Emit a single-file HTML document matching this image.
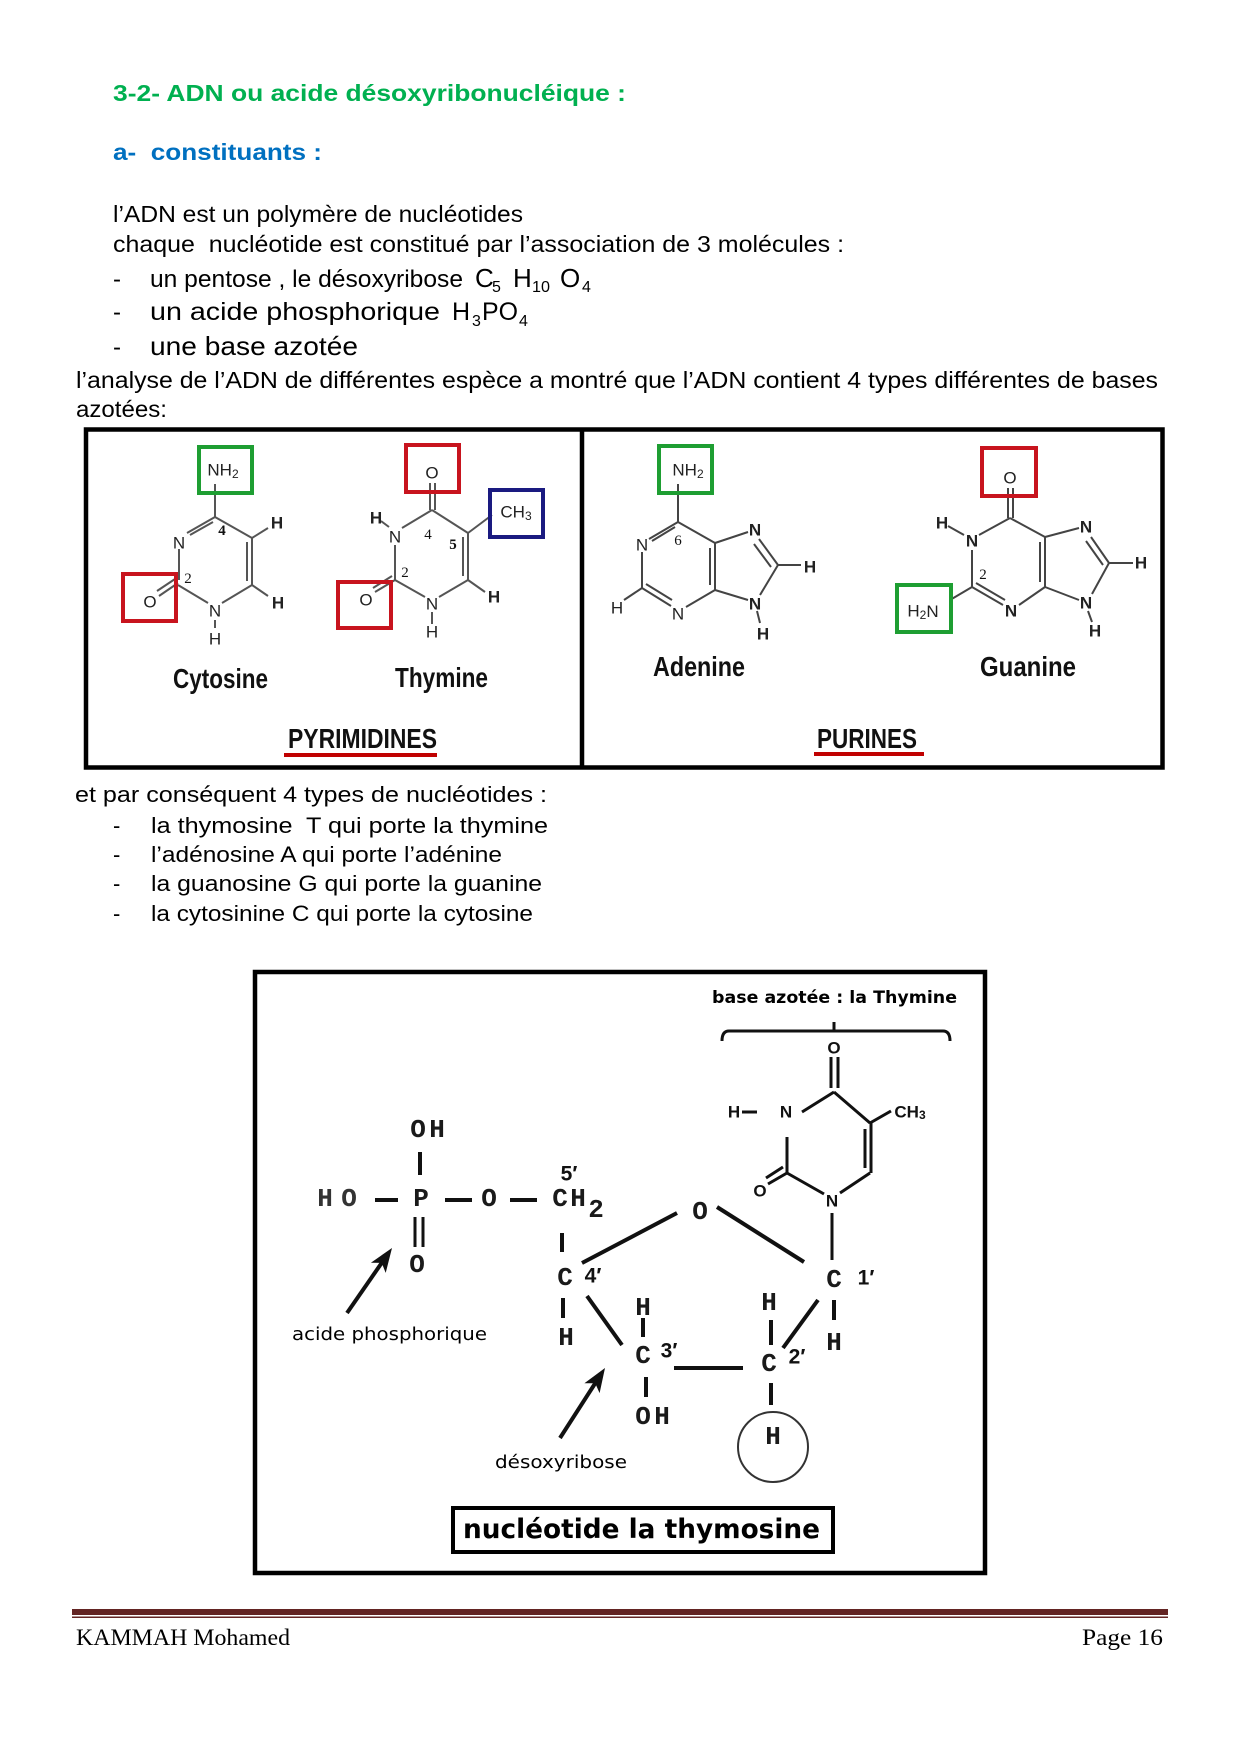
<!DOCTYPE html>
<html><head><meta charset="utf-8"><style>
html,body{margin:0;padding:0;background:#fff}
svg{display:block}
text{white-space:pre}
.p{font-family:"Liberation Sans",Arial,sans-serif;fill:#000}
.a{font-family:"Liberation Sans",Arial,sans-serif;font-size:17px;fill:#222;text-anchor:middle;dominant-baseline:central}
.n{font-family:"Liberation Serif",serif;font-size:15px;fill:#111;text-anchor:middle;dominant-baseline:central}
.m{font-family:"Liberation Mono",monospace;font-weight:bold;font-size:26px;fill:#1a1a1a;text-anchor:middle;dominant-baseline:central}
.pr{font-family:"Liberation Sans",sans-serif;font-weight:bold;font-size:21px;fill:#111;text-anchor:middle;dominant-baseline:central}
.b{font-family:"Liberation Sans",sans-serif;font-weight:bold;font-size:17px;fill:#111;text-anchor:middle;dominant-baseline:central}
.lab{font-family:"Liberation Sans",sans-serif;font-weight:bold;font-size:28px;fill:#111}
.dv{font-family:"DejaVu Sans",sans-serif;fill:#000}
</style></head><body>
<svg width="1240" height="1754" viewBox="0 0 1240 1754" xmlns="http://www.w3.org/2000/svg">
<rect x="0" y="0" width="1240" height="1754" fill="#fff"/>

<!-- Headings -->
<text class="p" x="113" y="101" font-size="23" font-weight="bold" style="fill:#00b050" textLength="513" lengthAdjust="spacingAndGlyphs">3-2- ADN ou acide désoxyribonucléique :</text>
<text class="p" x="113" y="160" font-size="23" font-weight="bold" style="fill:#0070c0" textLength="209" lengthAdjust="spacingAndGlyphs">a-  constituants :</text>

<text class="p" x="113" y="222" font-size="23" textLength="410" lengthAdjust="spacingAndGlyphs">l’ADN est un polymère de nucléotides</text>
<text class="p" x="113" y="252" font-size="23" textLength="731" lengthAdjust="spacingAndGlyphs">chaque  nucléotide est constitué par l’association de 3 molécules :</text>

<text class="p" x="113" y="287" font-size="24">-</text>
<text class="p" x="150" y="287" font-size="24" textLength="313" lengthAdjust="spacingAndGlyphs">un pentose , le désoxyribose</text>
<text class="p" x="475" y="287" font-size="26">C</text>
<text class="p" x="492" y="292" font-size="16">5</text>
<text class="p" x="513" y="287" font-size="26">H</text>
<text class="p" x="532" y="292" font-size="16" textLength="18" lengthAdjust="spacingAndGlyphs">10</text>
<text class="p" x="560" y="287" font-size="26">O</text>
<text class="p" x="582" y="292" font-size="16">4</text>

<text class="p" x="113" y="320" font-size="24">-</text>
<text class="p" x="150" y="320" font-size="25" textLength="290" lengthAdjust="spacingAndGlyphs">un acide phosphorique</text>
<text class="p" x="452" y="320" font-size="25">H</text>
<text class="p" x="472" y="326" font-size="16">3</text>
<text class="p" x="482" y="320" font-size="25" textLength="36" lengthAdjust="spacingAndGlyphs">PO</text>
<text class="p" x="519" y="326" font-size="16">4</text>

<text class="p" x="113" y="355" font-size="24">-</text>
<text class="p" x="150" y="355" font-size="26" textLength="208" lengthAdjust="spacingAndGlyphs">une base azotée</text>

<text class="p" x="76" y="388" font-size="23" textLength="1082" lengthAdjust="spacingAndGlyphs">l’analyse de l’ADN de différentes espèce a montré que l’ADN contient 4 types différentes de bases</text>
<text class="p" x="76" y="417" font-size="23" textLength="91" lengthAdjust="spacingAndGlyphs">azotées:</text>

<!-- Bases box -->
<rect x="86" y="429.5" width="1076.5" height="338" fill="none" stroke="#000" stroke-width="4.5"/>
<line x1="582" y1="429.5" x2="582" y2="767.5" stroke="#000" stroke-width="4.5"/>

<!-- Cytosine -->
<g stroke="#555" stroke-width="2" fill="none">
<line x1="215" y1="484" x2="215" y2="517"/>
<line x1="215" y1="517" x2="187" y2="533"/><line x1="213" y1="522" x2="190" y2="535"/>
<line x1="215" y1="517" x2="252" y2="538"/>
<line x1="252" y1="538" x2="252" y2="585"/><line x1="247" y1="542" x2="247" y2="581"/>
<line x1="252" y1="585" x2="222" y2="603"/>
<line x1="208" y1="603" x2="178" y2="585"/>
<line x1="179" y1="580" x2="179" y2="549"/>
<line x1="178" y1="583" x2="159" y2="596"/><line x1="175" y1="579" x2="157" y2="591"/>
<line x1="252" y1="538" x2="268" y2="528"/>
<line x1="252" y1="585" x2="268" y2="596"/>
<line x1="215" y1="620" x2="215" y2="628"/>
</g>
<rect x="199" y="447" width="53" height="46" fill="none" stroke="#1e9e32" stroke-width="4"/>
<rect x="123" y="574" width="53" height="47" fill="none" stroke="#c8141e" stroke-width="4"/>
<text class="a" x="223" y="470">NH<tspan font-size="12" dy="4">2</tspan></text>
<text class="a" x="179" y="543">N</text>
<text class="a" x="215" y="611">N</text>
<text class="a" x="215" y="639">H</text>
<text class="a" x="150" y="602">O</text>
<text class="a" x="277" y="523" font-weight="bold">H</text>
<text class="a" x="278" y="603" font-weight="bold">H</text>
<text class="n" x="222" y="531" font-weight="bold">4</text>
<text class="n" x="188" y="579">2</text>
<text class="lab" x="173" y="688" textLength="95" lengthAdjust="spacingAndGlyphs">Cytosine</text>

<!-- Thymine -->
<g stroke="#555" stroke-width="2" fill="none">
<line x1="430" y1="483" x2="430" y2="510"/><line x1="435" y1="483" x2="435" y2="510"/>
<line x1="432" y1="510" x2="402" y2="528"/>
<line x1="381" y1="521" x2="389" y2="527"/>
<line x1="432" y1="510" x2="468" y2="533"/>
<line x1="468" y1="533" x2="492" y2="515"/>
<line x1="468" y1="533" x2="468" y2="580"/><line x1="463" y1="537" x2="463" y2="576"/>
<line x1="468" y1="580" x2="485" y2="592"/>
<line x1="468" y1="580" x2="439" y2="597"/>
<line x1="425" y1="597" x2="395" y2="580"/>
<line x1="395" y1="580" x2="395" y2="545"/>
<line x1="395" y1="580" x2="375" y2="592"/><line x1="392" y1="576" x2="373" y2="588"/>
<line x1="432" y1="612" x2="432" y2="624"/>
</g>
<rect x="406" y="445" width="53" height="47" fill="none" stroke="#c8141e" stroke-width="4"/>
<rect x="338" y="582" width="53" height="46" fill="none" stroke="#c8141e" stroke-width="4"/>
<rect x="490" y="490" width="53" height="47" fill="none" stroke="#1a1a80" stroke-width="4"/>
<text class="a" x="432" y="473">O</text>
<text class="a" x="376" y="518" font-weight="bold">H</text>
<text class="a" x="395" y="537">N</text>
<text class="a" x="432" y="604">N</text>
<text class="a" x="432" y="632">H</text>
<text class="a" x="366" y="600">O</text>
<text class="a" x="494" y="597" font-weight="bold">H</text>
<text class="a" x="516" y="512">CH<tspan font-size="12" dy="4">3</tspan></text>
<text class="n" x="428" y="535">4</text>
<text class="n" x="453" y="545" font-weight="bold">5</text>
<text class="n" x="405" y="573">2</text>
<text class="lab" x="395" y="687" textLength="93" lengthAdjust="spacingAndGlyphs">Thymine</text>

<text class="lab" x="288" y="748" textLength="149" lengthAdjust="spacingAndGlyphs">PYRIMIDINES</text>
<line x1="284" y1="755" x2="437" y2="755" stroke="#c00000" stroke-width="4"/>

<!-- Adenine -->
<g stroke="#444" stroke-width="2" fill="none">
<line x1="678" y1="484" x2="678" y2="522"/>
<line x1="678" y1="522" x2="649" y2="539"/><line x1="675" y1="527" x2="652" y2="541"/>
<line x1="642" y1="552" x2="642" y2="588"/>
<line x1="642" y1="588" x2="624" y2="600"/>
<line x1="642" y1="588" x2="671" y2="606"/><line x1="646" y1="584" x2="672" y2="600"/>
<line x1="686" y1="607" x2="715" y2="590"/>
<line x1="715" y1="590" x2="715" y2="543"/><line x1="710" y1="585" x2="710" y2="548"/>
<line x1="715" y1="543" x2="678" y2="522"/>
<line x1="715" y1="543" x2="748" y2="532"/>
<line x1="759" y1="539" x2="778" y2="565"/><line x1="754" y1="544" x2="771" y2="567"/>
<line x1="778" y1="565" x2="801" y2="565"/>
<line x1="778" y1="565" x2="760" y2="595"/>
<line x1="748" y1="600" x2="715" y2="590"/>
<line x1="757" y1="611" x2="760" y2="623"/>
</g>
<rect x="659" y="446" width="53" height="47" fill="none" stroke="#1e9e32" stroke-width="4"/>
<text class="a" x="688" y="470">NH<tspan font-size="12" dy="4">2</tspan></text>
<text class="a" x="642" y="545">N</text>
<text class="a" x="617" y="608">H</text>
<text class="a" x="678" y="614">N</text>
<text class="a" x="755" y="530" font-weight="bold">N</text>
<text class="a" x="810" y="567" font-weight="bold">H</text>
<text class="a" x="755" y="604" font-weight="bold">N</text>
<text class="a" x="763" y="634" font-weight="bold">H</text>
<text class="n" x="678" y="541">6</text>
<text class="lab" x="653" y="676" textLength="92" lengthAdjust="spacingAndGlyphs">Adenine</text>

<!-- Guanine -->
<g stroke="#444" stroke-width="2" fill="none">
<line x1="1008" y1="488" x2="1008" y2="518"/><line x1="1013" y1="488" x2="1013" y2="518"/>
<line x1="1010" y1="518" x2="979" y2="535"/>
<line x1="948" y1="526" x2="964" y2="535"/>
<line x1="972" y1="550" x2="972" y2="587"/>
<line x1="972" y1="587" x2="950" y2="600"/>
<line x1="972" y1="587" x2="1003" y2="605"/><line x1="976" y1="583" x2="1005" y2="600"/>
<line x1="1019" y1="605" x2="1045" y2="587"/>
<line x1="1045" y1="587" x2="1045" y2="537"/><line x1="1040" y1="582" x2="1040" y2="542"/>
<line x1="1045" y1="537" x2="1010" y2="518"/>
<line x1="1045" y1="537" x2="1079" y2="528"/>
<line x1="1091" y1="537" x2="1109" y2="563"/><line x1="1086" y1="541" x2="1103" y2="565"/>
<line x1="1109" y1="563" x2="1133" y2="563"/>
<line x1="1109" y1="563" x2="1092" y2="594"/>
<line x1="1079" y1="600" x2="1045" y2="587"/>
<line x1="1088" y1="611" x2="1092" y2="622"/>
</g>
<rect x="982" y="448" width="54" height="48" fill="none" stroke="#c8141e" stroke-width="4"/>
<rect x="897" y="585" width="54" height="47" fill="none" stroke="#1e9e32" stroke-width="4"/>
<text class="a" x="1010" y="478">O</text>
<text class="a" x="942" y="523" font-weight="bold">H</text>
<text class="a" x="972" y="541" font-weight="bold">N</text>
<text class="n" x="983" y="575">2</text>
<text class="a" x="923" y="611">H<tspan font-size="12" dy="4">2</tspan><tspan dy="-4">N</tspan></text>
<text class="a" x="1011" y="611" font-weight="bold">N</text>
<text class="a" x="1086" y="527" font-weight="bold">N</text>
<text class="a" x="1141" y="563" font-weight="bold">H</text>
<text class="a" x="1086" y="603" font-weight="bold">N</text>
<text class="a" x="1095" y="631" font-weight="bold">H</text>
<text class="lab" x="980" y="676" textLength="96" lengthAdjust="spacingAndGlyphs">Guanine</text>

<text class="lab" x="817" y="748" textLength="100" lengthAdjust="spacingAndGlyphs">PURINES</text>
<line x1="814" y1="754" x2="924" y2="754" stroke="#c00000" stroke-width="4"/>

<!-- Nucleotide list -->
<text class="p" x="75" y="802" font-size="22" textLength="472" lengthAdjust="spacingAndGlyphs">et par conséquent 4 types de nucléotides :</text>
<text class="p" x="113" y="833" font-size="22">-</text>
<text class="p" x="151" y="833" font-size="22" textLength="397" lengthAdjust="spacingAndGlyphs">la thymosine  T qui porte la thymine</text>
<text class="p" x="113" y="862" font-size="22">-</text>
<text class="p" x="151" y="862" font-size="22" textLength="351" lengthAdjust="spacingAndGlyphs">l’adénosine A qui porte l’adénine</text>
<text class="p" x="113" y="891" font-size="22">-</text>
<text class="p" x="151" y="891" font-size="22" textLength="391" lengthAdjust="spacingAndGlyphs">la guanosine G qui porte la guanine</text>
<text class="p" x="113" y="921" font-size="22">-</text>
<text class="p" x="151" y="921" font-size="22" textLength="382" lengthAdjust="spacingAndGlyphs">la cytosinine C qui porte la cytosine</text>

<!-- Nucleotide diagram box -->
<rect x="255" y="972" width="730" height="601" fill="none" stroke="#000" stroke-width="4.5"/>

<text class="dv" x="712" y="1003" font-size="17" font-weight="bold" textLength="245" lengthAdjust="spacingAndGlyphs">base azotée : la Thymine</text>
<path d="M722,1041 Q722,1031 729,1031 L943,1031 Q950,1031 950,1041 M834,1022 L834,1031" fill="none" stroke="#111" stroke-width="3"/>

<!-- thymine base in nucleotide -->
<g stroke="#111" stroke-width="3" fill="none">
<line x1="831" y1="1057" x2="831" y2="1088"/><line x1="838" y1="1057" x2="838" y2="1088"/>
<line x1="802" y1="1112" x2="834" y2="1092"/>
<line x1="834" y1="1092" x2="870" y2="1123"/>
<line x1="870" y1="1123" x2="891" y2="1111"/>
<line x1="871" y1="1123" x2="871" y2="1173"/><line x1="865" y1="1129" x2="865" y2="1168"/>
<line x1="870" y1="1173" x2="840" y2="1193"/>
<line x1="824" y1="1194" x2="787" y2="1173"/>
<line x1="787" y1="1173" x2="787" y2="1137"/>
<line x1="787" y1="1173" x2="768" y2="1184"/><line x1="783" y1="1167" x2="766" y2="1178"/>
<line x1="742" y1="1112" x2="757" y2="1112"/>
<line x1="832" y1="1213" x2="832" y2="1260"/>
</g>
<text class="b" x="834" y="1048">O</text>
<text class="b" x="734" y="1112">H</text>
<text class="b" x="786" y="1112">N</text>
<text class="b" x="910" y="1112">CH<tspan font-size="12" dy="3">3</tspan></text>
<text class="b" x="832" y="1201">N</text>
<text class="b" x="760" y="1191">O</text>

<!-- phosphate and sugar -->
<g stroke="#111" stroke-width="4" fill="none">
<line x1="420" y1="1152" x2="420" y2="1175"/>
<line x1="375" y1="1200" x2="398" y2="1200"/>
<line x1="445" y1="1200" x2="472" y2="1200"/>
<line x1="510" y1="1200" x2="537" y2="1200"/>
<line x1="415" y1="1217" x2="415" y2="1247" stroke-width="3"/><line x1="423" y1="1217" x2="423" y2="1247" stroke-width="3"/>
<line x1="562" y1="1233" x2="562" y2="1252"/>
<line x1="582" y1="1263" x2="677" y2="1213"/>
<line x1="717" y1="1207" x2="804" y2="1262"/>
<line x1="563" y1="1298" x2="563" y2="1318"/>
<line x1="587" y1="1296" x2="622" y2="1345"/>
<line x1="643" y1="1318" x2="643" y2="1337"/>
<line x1="674" y1="1368" x2="743" y2="1368"/>
<line x1="646" y1="1377" x2="646" y2="1397"/>
<line x1="771" y1="1320" x2="771" y2="1345"/>
<line x1="771" y1="1383" x2="771" y2="1405"/>
<line x1="834" y1="1300" x2="834" y2="1320"/>
<line x1="818" y1="1300" x2="783" y2="1348"/>
<line x1="347" y1="1313" x2="383" y2="1261"/>
<line x1="560" y1="1438" x2="596" y2="1382"/>
</g>
<circle cx="773" cy="1447" r="35" fill="none" stroke="#333" stroke-width="2"/>
<polygon points="392,1248 385.7,1272.9 381.7,1262.9 370.9,1262.7" fill="#111"/>
<polygon points="605,1368 599.6,1393.1 595.2,1383.2 584.4,1383.3" fill="#111"/>

<text class="m" x="418" y="1130">O</text><text class="m" x="437" y="1130">H</text>
<text class="m" x="325" y="1199" style="fill:#333">H</text><text class="m" x="349" y="1199" style="fill:#333">O</text>
<text class="m" x="421" y="1199">P</text>
<text class="m" x="489" y="1199">O</text>
<text class="m" x="560" y="1199">C</text><text class="m" x="578" y="1199">H</text><text class="m" x="596" y="1210">2</text>
<text class="pr" x="569" y="1174">5′</text>
<text class="m" x="417" y="1265">O</text>
<text class="m" x="565" y="1278">C</text><text class="pr" x="593" y="1276">4′</text>
<text class="m" x="566" y="1338">H</text>
<text class="m" x="700" y="1212">O</text>
<text class="m" x="643" y="1308">H</text>
<text class="m" x="643" y="1356">C</text><text class="pr" x="669" y="1351">3′</text>
<text class="m" x="643" y="1417">O</text><text class="m" x="662" y="1417">H</text>
<text class="m" x="769" y="1303">H</text>
<text class="m" x="769" y="1364">C</text><text class="pr" x="797" y="1357">2′</text>
<text class="m" x="773" y="1437">H</text>
<text class="m" x="834" y="1280">C</text><text class="pr" x="866" y="1278">1′</text>
<text class="m" x="834" y="1343">H</text>

<text class="dv" x="292" y="1340" font-size="18" textLength="195" lengthAdjust="spacingAndGlyphs">acide phosphorique</text>
<text class="dv" x="495" y="1468" font-size="18" textLength="132" lengthAdjust="spacingAndGlyphs">désoxyribose</text>

<rect x="453" y="1508" width="380" height="44" fill="none" stroke="#000" stroke-width="4"/>
<text class="dv" x="463" y="1538" font-size="27" font-weight="bold" textLength="357" lengthAdjust="spacingAndGlyphs">nucléotide la thymosine</text>

<!-- Footer -->
<rect x="72" y="1609" width="1096" height="6" fill="#632423"/>
<rect x="72" y="1616.5" width="1096" height="1.5" fill="#632423"/>
<text x="76" y="1645" font-family="Liberation Serif, serif" font-size="23" fill="#000" textLength="214" lengthAdjust="spacingAndGlyphs">KAMMAH Mohamed</text>
<text x="1082" y="1645" font-family="Liberation Serif, serif" font-size="23" fill="#000" textLength="81" lengthAdjust="spacingAndGlyphs">Page 16</text>
</svg>
</body></html>
